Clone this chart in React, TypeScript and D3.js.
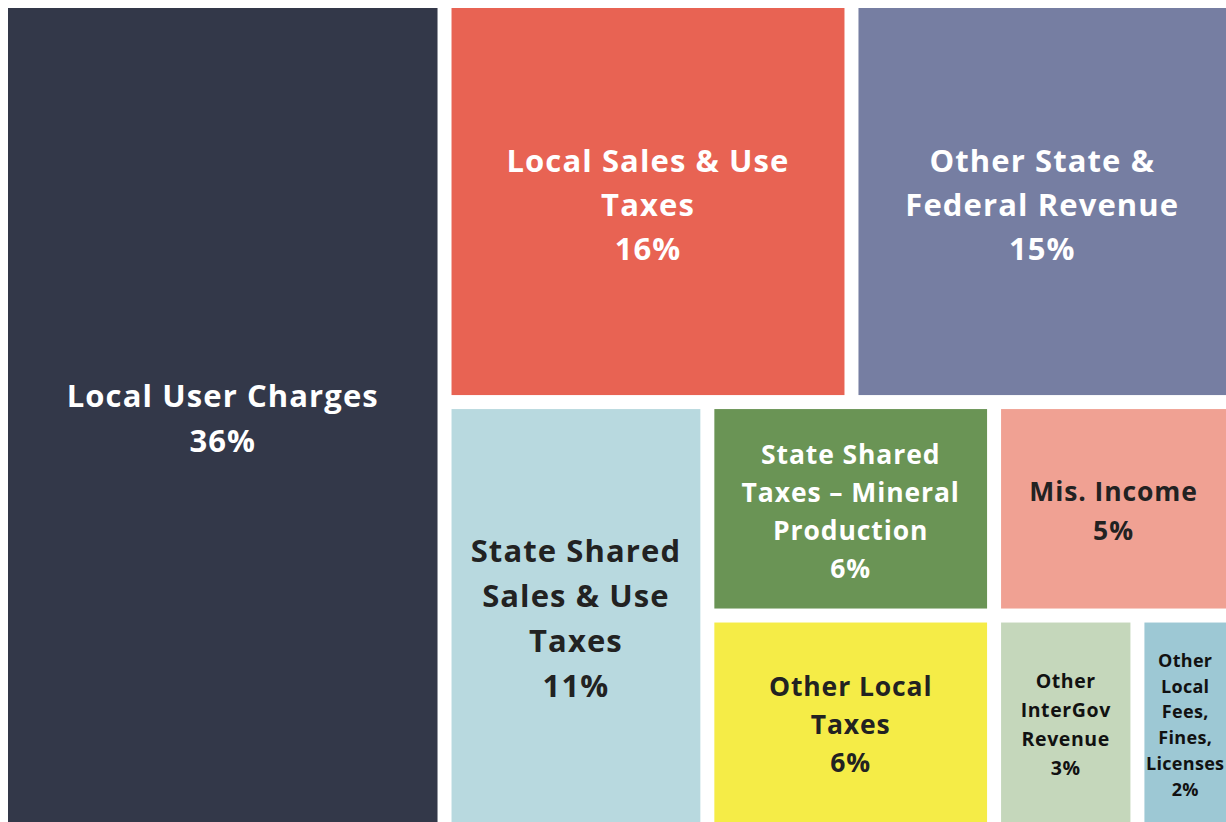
import { useEffect, useRef } from "react";
import * as d3 from "d3";

// leaf data
const names = [
  "Local User Charges",
  "Local Sales & Use Taxes",
  "Other State & Federal Revenue",
  "State Shared Sales & Use Taxes",
  "State Shared Taxes – Mineral Production",
  "Mis. Income",
  "Other Local Taxes",
  "Other InterGov Revenue",
  "Other Local Fees, Fines, Licenses",
];
const values = [36, 16, 15, 11, 6, 5, 6, 3, 2];
const colors = [
  "#333849",
  "#E86353",
  "#767EA2",
  "#B8D9DF",
  "#6A9455",
  "#F0A193",
  "#F5EC47",
  "#C5D7BB",
  "#9DC8D4",
];
const textColors = ["#fff", "#fff", "#fff", "#222", "#fff", "#222", "#222", "#111", "#111"];
// wrapped label lines (as shown on the chart)
const labelLines = [
  ["Local User Charges"],
  ["Local Sales & Use", "Taxes"],
  ["Other State &", "Federal Revenue"],
  ["State Shared", "Sales & Use", "Taxes"],
  ["State Shared", "Taxes – Mineral", "Production"],
  ["Mis. Income"],
  ["Other Local", "Taxes"],
  ["Other", "InterGov", "Revenue"],
  ["Other", "Local", "Fees,", "Fines,", "Licenses"],
];
const fontSizes = [31, 31, 31, 31, 26.5, 26.5, 26.5, 19.5, 18];
const spacings = [1.1, 1.1, 1.1, 1.1, 0.9, 0.9, 0.9, 0.6, 0.3];
const lineHeights = [45, 44, 44, 45, 38, 39, 38, 29, 25.8];

// nesting of leaf indexes (slice/dice alternates by depth)
const nesting: any = [0, [[1, 2], [3, [[4, 5], [6, 7, 8]]]]];

type N = { idx?: number; children?: N[] };
const build = (n: any): N =>
  typeof n === "number" ? { idx: n } : { children: n.map(build) };

const PAGE_W = 1226;
const PAGE_H = 822;
const OFFSET = 8;
const W = PAGE_W - OFFSET;
const H = PAGE_H - OFFSET;

const Treemap = () => {
  const ref = useRef<SVGSVGElement>(null);

  useEffect(() => {
    if (!ref.current) return;
    const svg = d3.select(ref.current);
    svg.selectAll("*").remove();

    const root = d3
      .hierarchy<N>(build(nesting))
      .sum((d) => (d.idx !== undefined ? values[d.idx] : 0));

    d3.treemap<N>().tile(d3.treemapSliceDice).size([W, H]).paddingInner(14)(root);

    const leaves = root.leaves() as d3.HierarchyRectangularNode<N>[];

    const g = svg.append("g").attr("transform", `translate(${OFFSET},${OFFSET})`);

    const cells = g
      .selectAll("g.cell")
      .data(leaves)
      .enter()
      .append("g")
      .attr("class", "cell");

    cells
      .append("rect")
      .attr("x", (d) => d.x0)
      .attr("y", (d) => d.y0)
      .attr("width", (d) => d.x1 - d.x0)
      .attr("height", (d) => d.y1 - d.y0)
      .attr("fill", (d) => colors[d.data.idx!]);

    cells.each(function (d) {
      const i = d.data.idx!;
      const lines = [...labelLines[i], `${values[i]}%`];
      const lh = lineHeights[i];
      const cx = (d.x0 + d.x1) / 2;
      const cy = (d.y0 + d.y1) / 2 + 2;
      const top = cy - ((lines.length - 1) * lh) / 2;
      const t = d3
        .select(this)
        .append("text")
        .attr("text-anchor", "middle")
        .attr("fill", textColors[i])
        .attr("font-family", "'Open Sans', sans-serif")
        .attr("font-weight", 700)
        .attr("font-size", fontSizes[i])
        .attr("letter-spacing", spacings[i]);
      lines.forEach((l, k) => {
        t.append("tspan")
          .attr("x", cx)
          .attr("y", top + k * lh)
          .attr("dominant-baseline", "central")
          .text(l);
      });
    });
  }, []);

  return (
    <>
      <style>{"html,body{margin:0;padding:0;overflow:hidden;}"}</style>
      <svg
        ref={ref}
        width={PAGE_W}
        height={PAGE_H}
        style={{ display: "block" }}
      ></svg>
    </>
  );
};

export default function App() {
  return <Treemap />;
}
